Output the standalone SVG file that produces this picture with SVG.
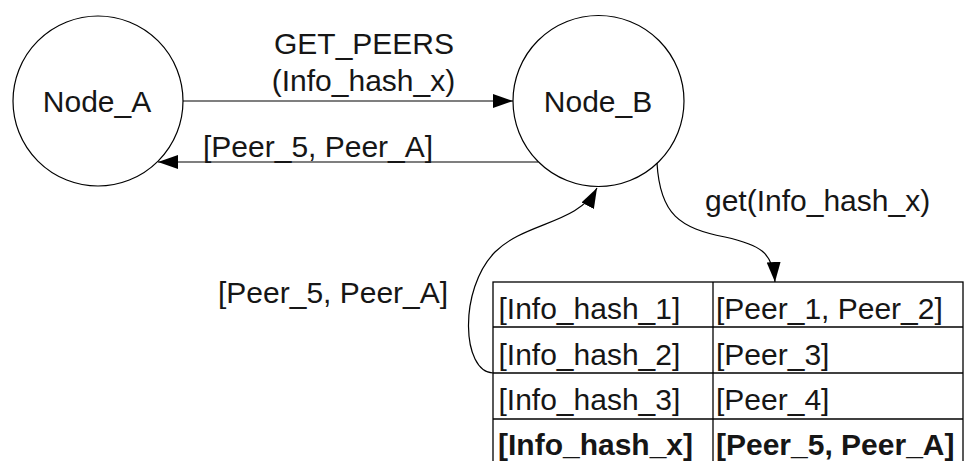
<svg xmlns="http://www.w3.org/2000/svg" width="964" height="461" viewBox="0 0 964 461">
<style>
text{font-family:"Liberation Sans",Arial,sans-serif;font-size:30px;fill:#161616}
.node{fill:#fff;stroke:#000;stroke-width:1.2}
.edge{fill:none;stroke:#000;stroke-width:1.2}
.cell{fill:none;stroke:#000;stroke-width:1.3}
.b{font-weight:bold}
</style>
<defs>
<marker id="ah" markerUnits="userSpaceOnUse" markerWidth="22" markerHeight="16" refX="20" refY="7" orient="auto">
<path d="M0,0 L20,7 L0,14 Z" fill="#000"/>
</marker>
</defs>
<rect width="964" height="461" fill="#fff"/>
<g id="node_a">
<circle class="node" cx="98" cy="101" r="85"/>
<text x="97" y="112" text-anchor="middle">Node_A</text>
</g>
<g id="node_b">
<circle class="node" cx="598.5" cy="101" r="85.5"/>
<text x="598" y="112" text-anchor="middle">Node_B</text>
</g>
<g id="table">
<rect class="cell" x="493" y="282" width="470" height="190"/>
<line class="cell" x1="713" y1="282" x2="713" y2="461"/>
<line class="cell" x1="493" y1="327" x2="963" y2="327"/>
<line class="cell" x1="493" y1="373" x2="963" y2="373"/>
<line class="cell" x1="493" y1="419" x2="963" y2="419"/>
<text x="498.5" y="319">[Info_hash_1]</text>
<text x="716" y="319">[Peer_1, Peer_2]</text>
<text x="498.5" y="365">[Info_hash_2]</text>
<text x="716" y="365">[Peer_3]</text>
<text x="498.5" y="410">[Info_hash_3]</text>
<text x="716" y="410">[Peer_4]</text>
<text class="b" x="498" y="455">[Info_hash_x]</text>
<text class="b" x="716" y="455">[Peer_5, Peer_A]</text>
</g>
<g id="connectors">
<line class="edge" x1="183" y1="101" x2="513" y2="101" marker-end="url(#ah)"/>
<line class="edge" x1="538" y1="162" x2="158" y2="162" marker-end="url(#ah)"/>
<path class="edge" d="M657,163 C660,215 680,228 725,237 C760,245 773,252 775,282" marker-end="url(#ah)"/>
<path class="edge" d="M493,373 C462,372 458,290 495,252 C525,222 578,224 597,188" marker-end="url(#ah)"/>
<text x="364" y="54" text-anchor="middle">GET_PEERS</text>
<text x="363.5" y="91" text-anchor="middle">(Info_hash_x)</text>
<text x="203" y="157">[Peer_5, Peer_A]</text>
<text x="705" y="210.5">get(Info_hash_x)</text>
<text x="218" y="303">[Peer_5, Peer_A]</text>
</g>
</svg>
